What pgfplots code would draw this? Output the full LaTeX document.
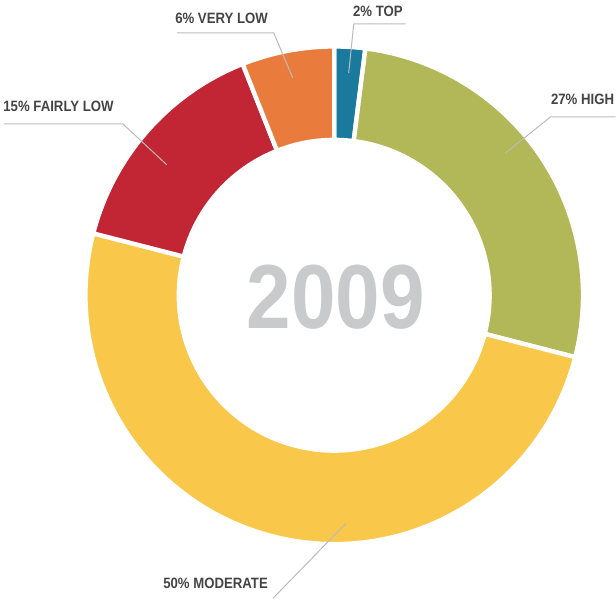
\documentclass[border=0pt]{standalone}
\usepackage{pgfplots}
\pgfplotsset{compat=1.18}
\usepackage{pgfplotstable}
\usepackage{fontspec}
\setmainfont{Liberation Sans}
\newfontfamily\cond{Liberation Sans}[FakeStretch=0.88]

\definecolor{cTop}{HTML}{1A7A9E}
\definecolor{cHigh}{HTML}{B2B858}
\definecolor{cMod}{HTML}{F9C74A}
\definecolor{cFL}{HTML}{C22533}
\definecolor{cVL}{HTML}{E97C3C}
\definecolor{labtxt}{HTML}{444444}
\definecolor{leader}{HTML}{BBBBBB}
\definecolor{yeartxt}{HTML}{C9CACC}

% shares in percent, clockwise from 12 o'clock
\pgfplotstableread{
value
2
27
50
15
6
}\donut

\def\Ro{124.5pt}
\def\Ri{77.75pt}
\def\Rd{-46.75pt}

\begin{document}
\begin{tikzpicture}
\begin{axis}[
    x=0.5pt, y=0.5pt,
    xmin=-334.5, xmax=281.5, ymin=-303.5, ymax=295.5,
    hide axis, clip=false,
]
\path (axis cs:-334.5,-303.5) rectangle (axis cs:281.5,295.5);
\pgfplotsextra{
  \gdef\cum{0}
  \foreach \i/\c in {0/cTop,1/cHigh,2/cMod,3/cFL,4/cVL}{
    \pgfplotstablegetelem{\i}{value}\of\donut
    \let\v\pgfplotsretval
    \pgfmathsetmacro\a{90-3.6*\cum}
    \pgfmathsetmacro\b{\a-3.6*\v}
    \filldraw[fill=\c, draw=white, line width=2.2pt, line join=miter]
      (axis cs:0,0) ++(\a:\Ro) arc[start angle=\a, end angle=\b, radius=\Ro]
      -- ++(\b:\Rd) arc[start angle=\b, end angle=\a, radius=\Ri] -- cycle;
    \pgfmathsetmacro\nc{\cum+\v}
    \xdef\cum{\nc}
  }
}
% leader lines
\draw[leader, line width=0.5pt] (axis cs:71.5,271.5) -- (axis cs:19.5,271.5) -- (axis cs:14.5,222.5);
\draw[leader, line width=0.5pt] (axis cs:281.5,178.5) -- (axis cs:216.5,178.5) -- (axis cs:171.5,142.5);
\draw[leader, line width=0.5pt] (axis cs:-330.5,171.5) -- (axis cs:-211.5,171.5) -- (axis cs:-167.5,130.5);
\draw[leader, line width=0.5pt] (axis cs:-157.5,262.5) -- (axis cs:-60.5,262.5) -- (axis cs:-41.5,217.5);
\draw[leader, line width=0.5pt] (axis cs:-61.5,-303.5) -- (axis cs:11.5,-228.5);
% labels
\begin{scope}[every node/.style={inner sep=0pt, text=labtxt, font=\cond\bfseries\fontsize{7.5}{9}\selectfont}]
\node[anchor=base west] at (axis cs:18.5,278.5) {2\% TOP};
\node[anchor=base east] at (axis cs:280.5,190.5) {27\% HIGH};
\node[anchor=base west] at (axis cs:-331.5,183.5) {15\% FAIRLY LOW};
\node[anchor=base west] at (axis cs:-159.5,271.5) {6\% VERY LOW};
\node[anchor=base west] at (axis cs:-171.5,-293.5) {50\% MODERATE};
\end{scope}
\node[inner sep=0pt, text=yeartxt, font=\cond\bfseries\fontsize{45.5}{50}\selectfont] at (axis cs:1.5,-2) {2009};
\end{axis}
\end{tikzpicture}
\end{document}
